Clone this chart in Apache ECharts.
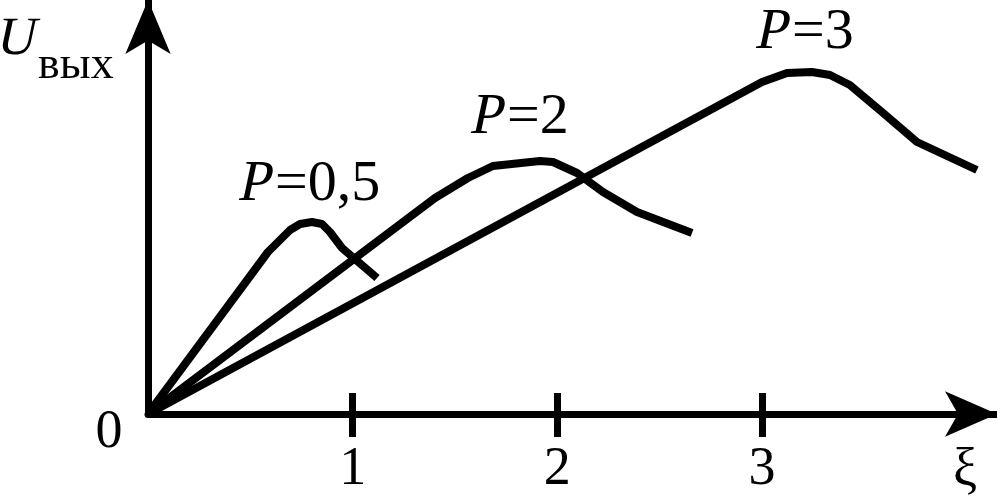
<!DOCTYPE html>
<html>
<head>
<meta charset="utf-8">
<script src="https://cdn.jsdelivr.net/npm/echarts@6/dist/echarts.min.js"></script>
<style>
html,body{margin:0;padding:0;background:#fff;}
#chart{width:997px;height:501px;}
</style>
</head>
<body>
<div id="chart"></div>
<script>
// ---- data (ξ on x, U_вых in arbitrary units on y) ----
const xi05 = [0, 0.586, 0.694, 0.743, 0.801, 0.850, 0.889, 0.948, 1.119];
const u05  = [0, 1.62, 1.84, 1.90, 1.92, 1.90, 1.82, 1.66, 1.36];

const xi2 = [0, 1.402, 1.563, 1.685, 1.915, 1.979, 2.096, 2.223, 2.389, 2.658];
const u2  = [0, 2.16, 2.36, 2.48, 2.53, 2.52, 2.41, 2.22, 2.02, 1.81];

const xi3 = [0, 3.0, 3.122, 3.244, 3.332, 3.429, 3.586, 3.757, 4.05];
const u3  = [0, 3.32, 3.41, 3.42, 3.39, 3.29, 3.02, 2.72, 2.44];

const xTickValues = [1, 2, 3];
const seriesNames = ['P=0,5', 'P=2', 'P=3'];
const xName = 'ξ';
const yName = 'U';
const ySub = 'вых';
const originLabel = '0';

const FONT = '"Liberation Serif", "Times New Roman", serif';
const SKEW = -0.21;

function pairs(xs, ys) { return xs.map((x, i) => [x, ys[i]]); }

const chart = echarts.init(document.getElementById('chart'), null, {renderer: 'canvas'});

const lineSeries = (name, xs, ys) => ({
  name: name, type: 'line', data: pairs(xs, ys),
  showSymbol: false, symbol: 'none', smooth: false, clip: false,
  lineStyle: {color: '#000', width: 8, join: 'round', cap: 'butt'},
  xAxisIndex: 0, yAxisIndex: 0
});

function txt(text, x, y, size, align, slanted) {
  const el = {type: 'text', x: x, y: y, z: 10,
    style: {text: text, fontFamily: FONT, fontSize: size, fontStyle: 'normal',
      fill: '#000', verticalAlign: 'middle', align: align}};
  if (slanted) { el.skewX = SKEW; el.originX = 0; el.originY = 0; }
  return el;
}

// P label: italic "P" (slanted serif) + upright rest
function pLabel(name, x, y, size, pWidth) {
  return [
    txt(name.charAt(0), x, y, size, 'left', true),
    txt(name.slice(1), x + pWidth, y, size, 'left', false)
  ];
}

const option = {
  animation: false,
  backgroundColor: '#fff',
  grid: {left: 148, right: 0, top: 0, bottom: 87, containLabel: false},
  xAxis: [{
    type: 'value', min: 0, max: 4.148, interval: 1,
    axisLine: {show: true, onZero: false, lineStyle: {color: '#000', width: 7},
      symbol: ['none', 'arrow'], symbolSize: [34, 52], symbolOffset: [0, 0]},
    axisTick: {show: true, inside: false, length: 23, customValues: xTickValues,
      lineStyle: {color: '#000', width: 7}},
    axisLabel: {show: true, customValues: xTickValues, margin: 56, verticalAlign: 'middle',
      fontFamily: FONT, fontSize: 54, color: '#000'},
    splitLine: {show: false}
  }, {
    type: 'value', min: 0, max: 4.148, interval: 1, position: 'bottom',
    axisLine: {show: false},
    axisTick: {show: true, inside: true, length: 21, customValues: xTickValues,
      lineStyle: {color: '#000', width: 7}},
    axisLabel: {show: false},
    splitLine: {show: false}
  }],
  yAxis: {
    type: 'value', min: 0, max: 4.14,
    axisLine: {show: true, onZero: false, lineStyle: {color: '#000', width: 7},
      symbol: ['none', 'arrow'], symbolSize: [34, 54], symbolOffset: [0, 0]},
    axisTick: {show: false},
    axisLabel: {show: false},
    splitLine: {show: false}
  },
  series: [
    lineSeries(seriesNames[0], xi05, u05),
    lineSeries(seriesNames[1], xi2, u2),
    lineSeries(seriesNames[2], xi3, u3)
  ],
  graphic: [].concat(
    pLabel(seriesNames[0], 240, 185, 58, 35),
    pLabel(seriesNames[1], 472, 118, 58, 35),
    pLabel(seriesNames[2], 757, 33, 58, 35),
    [
      txt(yName, -2, 40, 54, 'left', true),
      txt(ySub, 38, 66, 46, 'left', false),
      txt(originLabel, 109, 433, 54, 'center', false),
      txt(xName, 965, 472, 54, 'center', false)
    ]
  )
};

chart.setOption(option);
</script>
</body>
</html>
